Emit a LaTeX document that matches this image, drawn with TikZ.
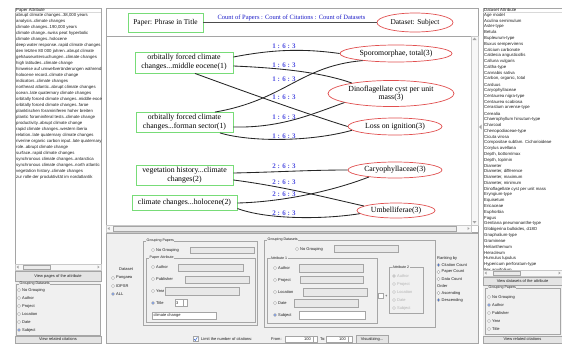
\documentclass[tikz,border=0pt]{standalone}
\usepackage{fontspec}
\setmainfont{Liberation Serif}
\newfontfamily\guifont{Liberation Sans}
\usetikzlibrary{shapes.geometric}
\definecolor{boxgreen}{RGB}{120,220,120}
\definecolor{ellred}{RGB}{225,80,80}
\definecolor{lblblue}{RGB}{80,80,225}
\definecolor{linkblue}{RGB}{30,30,200}
\definecolor{guibg}{RGB}{240,240,240}
\definecolor{guiline}{RGB}{165,165,165}
\definecolor{guitext}{RGB}{30,30,30}
\definecolor{guidis}{RGB}{232,232,232}
\definecolor{btnfill}{RGB}{228,228,228}
\definecolor{radiosel}{RGB}{40,90,200}
\newcommand\guiradio[4]{%
  \draw[guiline, fill=white] (#1,#2) circle[radius=1.6pt];
  \ifnum#4=1 \fill[radiosel] (#1,#2) circle[radius=0.8pt];\fi
  \node[gui] at ({#1+3},#2) {#3};}
\newcommand\guiradiooff[4]{%
  \draw[guiline!60, fill=guidis] (#1,#2) circle[radius=1.6pt];
  \ifnum#4=1 \fill[gray!60] (#1,#2) circle[radius=0.8pt];\fi
  \node[gui, text=gray!60] at ({#1+3},#2) {#3};}
\newcommand\guitbox[5]{\draw[guiline, fill=#5] (#1,#2) rectangle (#3,#4);}
\newcommand\guigroup[5]{\draw[gray!70, line width=0.5pt] (#1,#2) rectangle (#3,#4);
  \node[guit, fill=guibg, inner xsep=0.5pt] at ({#1+3},#2) {#5};}
\newcommand\guibutton[5]{\draw[guiline, fill=btnfill] (#1,#2) rectangle (#3,#4);
  \node[gui, anchor=center] at ({(#1+#3)/2},{(#2+#4)/2}) {#5};}
\newcommand\guihscroll[6]{%
  \draw[guiline!60, fill=gray!6] (#1,#2) rectangle (#3,#4);
  \draw[guiline, fill=gray!16] (#5,{#2+0.8}) rectangle (#6,{#4-0.8});
  \fill[gray!70] ({#1+1.5},{(#2+#4)/2}) -- ({#1+3.5},{(#2+#4)/2-1.5}) -- ({#1+3.5},{(#2+#4)/2+1.5}) -- cycle;
  \fill[gray!70] ({#3-1.5},{(#2+#4)/2}) -- ({#3-3.5},{(#2+#4)/2-1.5}) -- ({#3-3.5},{(#2+#4)/2+1.5}) -- cycle;}
\begin{document}
\begin{tikzpicture}[x=1pt,y=-1pt,
  gui/.style={font=\guifont\fontsize{4}{4.5}\selectfont, inner sep=0pt, anchor=west, text=guitext},
  guil/.style={gui, font=\guifont\fontsize{4.3}{5}\selectfont},
  guit/.style={gui, font=\guifont\fontsize{3.6}{4}\selectfont},
  pbox/.style={draw=boxgreen, line width=0.9pt, align=center, inner sep=0pt,
    font=\fontsize{7.8}{9}\selectfont},
  dset/.style={ellipse, draw=ellred, line width=0.7pt, align=center, inner sep=0pt,
    font=\fontsize{7.8}{8.6}\selectfont},
  conn/.style={draw=black!85, line width=0.85pt},
  cnt/.style={font=\bfseries\fontsize{7}{7}\selectfont, text=lblblue, inner sep=0pt}]
\useasboundingbox (0,0) rectangle (562,343);
\fill[white] (0,0) rectangle (562,343);

% ---------- left panel ----------
\draw[guiline] (15,8) rectangle (101,264);
\begin{scope}
\clip (15,8) rectangle (101,264);
\node[guil] at (16,10) {Paper Attribute};
\draw[gray!30] (15,12.6) -- (101,12.6);
\foreach \t [count=\i from 0] in {abrupt climate changes..38{,}000 years, analysis..climate changes,
 climate changes..190{,}000 years, climate change..swiss peat hyperbolic, climate changes..holocene,
 deep water response..rapid climate changes, den letzten 80 000 jahren..abrupt climate,
 gehäuseuntersuchungen..climate changes, high latitudes..climate change,
 hinweise auf umweltveränderungen während, holocene record..climate change, indicators..climate changes,
 northeast atlantic..abrupt climate changes, ocean..late quaternary climate changes,
 orbitally forced climate changes..middle eocene, orbitally forced climate changes..faroe,
 planktischen foraminiferen hoher breiten, plantic foraminiferal tests..climate change,
 productivity..abrupt climate change, rapid climate changes..western iberia,
 relation..late quaternary climate changes, riverine organic carbon input..late quaternary,
 role..abrupt climate change, surface..rapid climate changes, synchronous climate changes..antarctica,
 synchronous climate changes..north atlantic, vegetation history..climate changes,
 zur rolle der produktivität im nordatlantik}
  \node[guil] at (16,{15+6*\i}) {\t};
\end{scope}
\fill[guibg] (15,264) rectangle (101,343);
\guihscroll{15}{264}{101}{270}{23}{50}
\guibutton{15}{271}{101}{281}{View pages of the attribute}
\guigroup{16}{284}{100}{335}{Grouping Datasets}
\guiradio{19}{290}{No Grouping}{0}
\guiradio{19}{298}{Author}{0}
\guiradio{19}{306}{Project}{0}
\guiradio{19}{314}{Location}{0}
\guiradio{19}{322}{Date}{0}
\guiradio{19}{330}{Subject}{1}
\guibutton{15}{336}{101}{343}{View related citations}

% ---------- right panel ----------
\draw[guiline] (483,8) rectangle (562,270);
\begin{scope}
\clip (483,8) rectangle (562,270);
\node[guil] at (484,10) {Dataset Attribute};
\draw[gray!30] (483,12.6) -- (562,12.6);
\foreach \t [count=\i from 0] in {Age model, Aculina semimulum, Aster-type, Betula, Bupleurum-type,
 Buxus sempervirens, Calcium carbonate, Caldesia angusticollis, Calluna vulgaris, Caltha-type,
 Cannabis sativa, {Carbon, organic, total}, Carduus, Caryophyllaceae, Centaurea nigra-type,
 Centaurea scabiosa, Cerastium arvense-type, Cerealia, Chaerophyllum hirsutum-type, Charcoal,
 Chenopodiaceae-type, Cicuta virosa, {Compositae subfam. Cichorioideae}, Corylus avellana,
 {Depth, bottom/max}, {Depth, top/min}, Diameter, {Diameter, difference}, {Diameter, maximum},
 {Diameter, minimum}, Dinoflagellate cyst per unit mass, Eryngium-type, Equisetum, Ericaceae,
 Euphorbia, Fagus, Gentiana pneumonanthe-type, {Globigerina bulloides, d18O}, Gnaphalium-type,
 Gramineae, Helianthemum, Heracleum, Humulus lupulus, Hypericum perforatum-type, Ilex aquifolium}
  \node[guil] at (484,{15+5.8*\i}) {\t};
\end{scope}
\fill[guibg] (483,270) rectangle (562,343);
\guihscroll{483}{270}{562}{276}{493}{520}
\guibutton{483}{277}{562}{285}{View datasets of the attribute}
\guigroup{485}{288}{560}{334}{Grouping Papers}
\guiradio{489}{297}{No Grouping}{0}
\guiradio{489}{305}{Author}{1}
\guiradio{489}{313}{Publisher}{0}
\guiradio{489}{321}{Year}{0}
\guiradio{489}{329}{Title}{0}
\guibutton{483}{336}{562}{343}{View related citations}

% ---------- diagram panel ----------
\draw[guiline] (106,8) rectangle (478,232);
\draw[guiline] (106,36) -- (471,36);
\draw[guiline!60, fill=gray!6] (471,36) rectangle (478,225);
\fill[gray!70] (474.5,37.5) -- (476.5,40) -- (472.5,40) -- cycle;
\fill[gray!70] (474.5,223.5) -- (476.5,221) -- (472.5,221) -- cycle;
\guihscroll{106}{225}{471}{232}{113}{456}
\fill[gray!70] (479,127) -- (481.5,124.5) -- (481.5,129.5) -- cycle;

% header
\node[draw=boxgreen, line width=0.9pt, minimum width=75pt, minimum height=19pt, inner sep=0pt,
  font=\fontsize{7.4}{8}\selectfont] (hp) at (165.5,22.5) {Paper: Phrase in Title};
\node[ellipse, draw=ellred, line width=0.7pt, minimum width=76pt, minimum height=19pt, inner sep=0pt,
  font=\fontsize{7.4}{8}\selectfont] (hd) at (415,22.5) {Dataset: Subject};
\draw[black!70, line width=0.6pt] (hp.east) -- (hd.west);
\node[font=\fontsize{6.5}{7}\selectfont, text=linkblue, inner sep=0pt] (lk) at (291.5,18.3)
  {Count of Papers : Count of Citations : Count of Datasets};

% paper nodes
\node[pbox, minimum width=98pt, minimum height=21pt] (p1) at (184,62.5)
  {orbitally forced climate\\changes...middle eocene(1)};
\node[pbox, minimum width=97pt, minimum height=20pt] (p2) at (184.5,122.5)
  {orbitally forced climate\\changes...forman sector(1)};
\node[pbox, minimum width=97pt, minimum height=20pt] (p3) at (184.5,175)
  {vegetation history...climate\\changes(2)};
\node[pbox, minimum width=105pt, minimum height=15pt] (p4) at (184.5,202.5)
  {climate changes...holocene(2)};

% dataset nodes
\node[dset, minimum width=112pt, minimum height=17pt] (d1) at (396,53.5) {Sporomorphae, total(3)};
\node[dset, minimum width=126pt, minimum height=26pt] (d2) at (391,93.5) {Dinoflagellate cyst per unit\\mass(3)};
\node[dset, minimum width=94pt, minimum height=17pt] (d3) at (395,126.5) {Loss on ignition(3)};
\node[dset, minimum width=94pt, minimum height=16pt] (d4) at (395,170) {Caryophyllaceae(3)};
\node[dset, minimum width=78pt, minimum height=15pt] (d5) at (396,210.5) {Umbelliferae(3)};

% connectors
\draw[conn] ([yshift=5.5pt]p1.east) .. controls (270,50) and (300,48) .. (d1.west);
\draw[conn] ([yshift=-3.5pt]p1.east) .. controls (280,68) and (320,72) .. (d2.165);
\draw[conn] ([xshift=11pt]p1.south) .. controls (240,90) and (310,115) .. (d3.west);
\draw[conn] ([xshift=30.5pt]p2.north) .. controls (285,100) and (300,66) .. (d1.192);
\draw[conn] ([yshift=-4.5pt]p2.east) .. controls (280,128) and (310,115) .. (d2.191);
\draw[conn] ([xshift=35.5pt]p2.south) .. controls (250,142) and (310,142) .. (d3.185);
\draw[conn] ([yshift=2pt]p3.east) .. controls (280,172) and (310,170) .. (d4.west);
\draw[conn] ([yshift=-5pt]p3.east) .. controls (280,186) and (320,196) .. (d5.172);
\draw[conn] ([yshift=-0.5pt]p4.east) .. controls (280,202) and (330,192) .. (d4.195);
\draw[conn] ([yshift=-6pt]p4.east) .. controls (265,219) and (320,220) .. (d5.185);

% connector labels
\node[cnt] (l1) at (284,46.5) {1 : 6 : 3};
\node[cnt] (l2) at (284,65) {1 : 6 : 3};
\node[cnt] (l3) at (284,79) {1 : 6 : 3};
\node[cnt] (l4) at (284,97) {1 : 6 : 3};
\node[cnt] (l5) at (284,117) {1 : 6 : 3};
\node[cnt] (l6) at (284,136) {1 : 6 : 3};
\node[cnt] (l7) at (284,166) {2 : 6 : 3};
\node[cnt] (l8) at (284,182) {2 : 6 : 3};
\node[cnt] (l9) at (284,194) {2 : 6 : 3};
\node[cnt] (l10) at (284,213) {2 : 6 : 3};

% ---------- bottom control panel ----------
\fill[guibg] (106,233) rectangle (478,343);
\draw[guiline] (106,233) rectangle (478,343);
\node[gui] at (119,269) {Dataset};
\guiradio{113}{278}{Pangaea}{0}
\guiradio{113}{286}{IDPSR}{0}
\guiradio{113}{294}{ALL}{1}

\guigroup{143}{241}{257}{325}{Grouping Papers}
\guiradio{153}{250}{No Grouping}{0}
\guitbox{190}{247}{254}{253.5}{guidis}
\guigroup{146}{258}{255}{322}{Paper Attribute}
\guiradio{153}{267}{Author}{0}
\guitbox{178}{264}{243}{271}{guidis}
\guiradio{153}{279}{Publisher}{0}
\guitbox{185}{276}{249}{283}{guidis}
\guiradio{153}{291}{Year}{0}
\guitbox{165}{287}{239}{295}{guidis}
\guiradio{153}{303}{Title}{1}
\guitbox{175}{299.5}{187}{306.5}{white}
\node[gui] at (176,303) {3};
\draw[guiline] (183.5,299.5) -- (183.5,306.5);
\guitbox{152}{312}{216}{319}{white}
\node[gui] at (153.5,315.5) {climate change};

\guigroup{264}{240}{435}{327}{Grouping Datasets}
\guiradio{297}{249}{No Grouping}{0}
\guitbox{334}{245}{398}{252}{guidis}
\guigroup{267}{258}{377}{323}{Attribute 1}
\guiradio{275}{268}{Author}{0}
\guitbox{299}{264}{363}{272}{guidis}
\guiradio{275}{280}{Project}{0}
\guitbox{300}{276}{363}{283.5}{guidis}
\guiradio{275}{292}{Location}{0}
\guitbox{303}{288}{367}{296}{guidis}
\guiradio{275}{303}{Date}{0}
\guitbox{294}{299}{358}{307}{guidis}
\guiradio{275}{315}{Subject}{1}
\guitbox{299}{311}{365}{319}{white}
\draw[guiline, fill=white] (378.5,293.5) rectangle (383.5,298.5);
\node[gui] at (385,296) {+};
\guigroup{389}{267}{423}{313}{Attribute 2}
\guiradiooff{394}{276}{Author}{1}
\guiradiooff{394}{284}{Project}{0}
\guiradiooff{394}{292}{Location}{0}
\guiradiooff{394}{300}{Date}{0}
\guiradiooff{394}{308}{Subject}{0}

\node[gui] at (437,258) {Ranking by};
\guiradio{438.5}{265}{Citation Count}{1}
\guiradio{438.5}{272}{Paper Count}{0}
\guiradio{438.5}{279}{Data Count}{0}
\node[gui] at (437,286) {Order};
\guiradio{438.5}{293}{Ascending}{0}
\guiradio{438.5}{300}{Descending}{1}

\draw[guiline, fill=white] (193,336.5) rectangle (198,341.5);
\draw[radiosel, line width=0.5pt] (194,339) -- (195.3,340.5) -- (197.3,337.3);
\node[gui] at (201,339) {Limit the number of citations:};
\node[gui] at (271,339) {From:};
\guitbox{285}{336}{317}{342}{white}
\node[gui, anchor=east] at (311,339) {100};
\draw[guiline] (313,336) -- (313,342);
\node[gui] at (320,339) {To:};
\guitbox{326}{336}{352}{342}{white}
\node[gui, anchor=east] at (346,339) {100};
\draw[guiline] (348,336) -- (348,342);
\guibutton{356}{335}{388}{343}{Visualizing...}
\end{tikzpicture}
\end{document}
